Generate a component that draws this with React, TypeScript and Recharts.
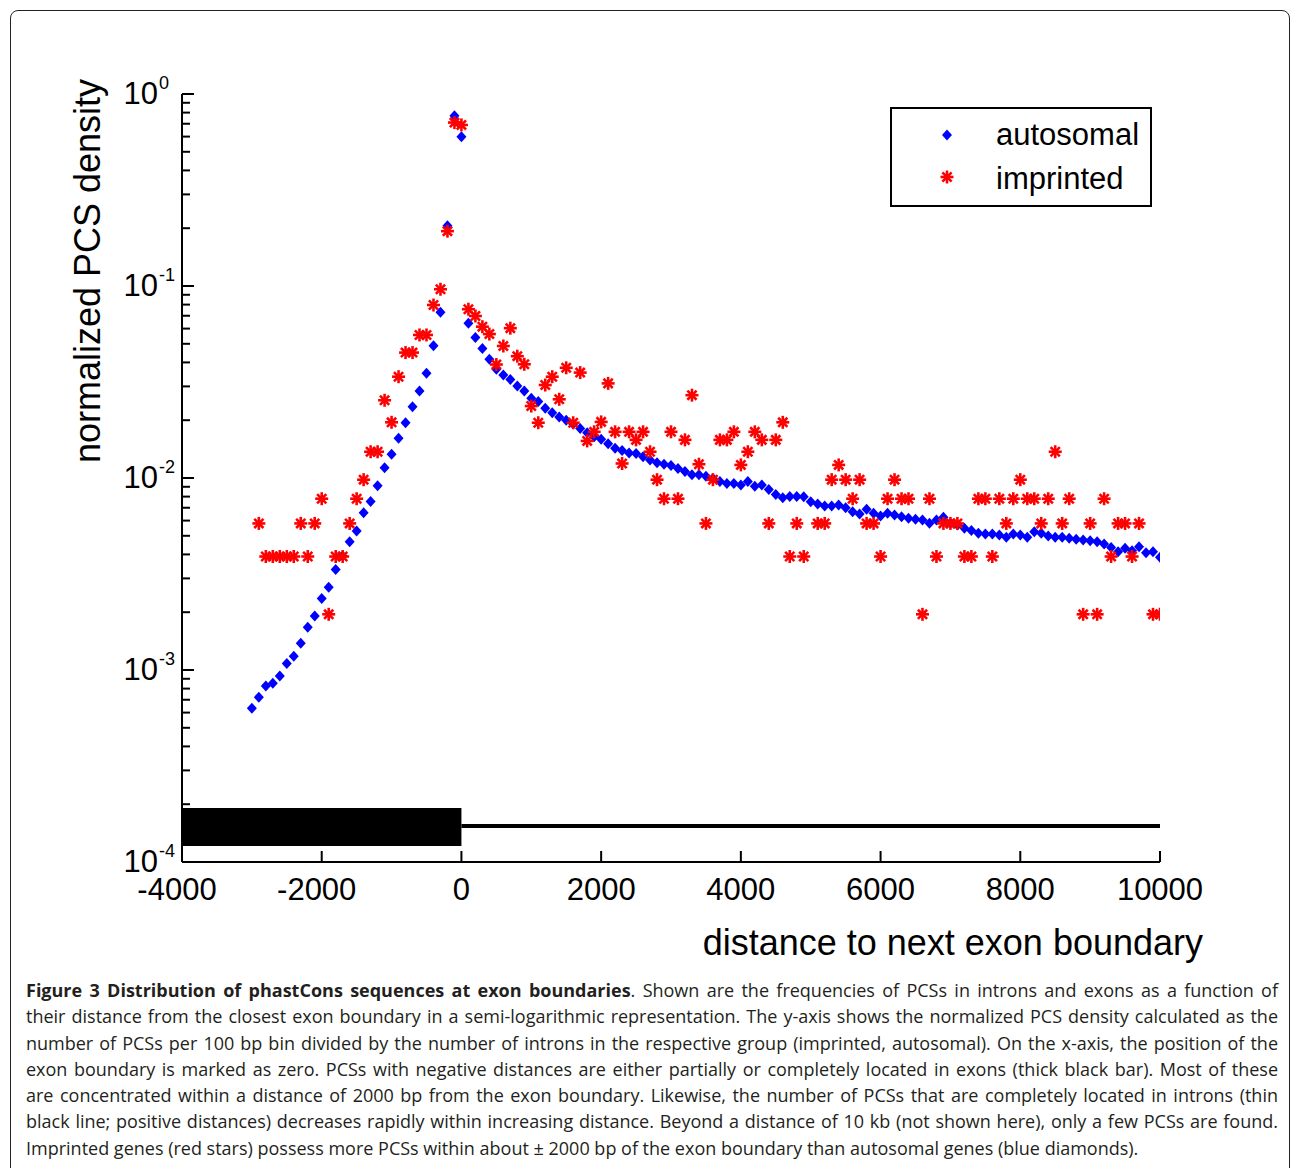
import React from "react";
import {
  ScatterChart,
  Scatter,
  XAxis,
  YAxis,
  ReferenceArea,
  ReferenceLine,
  Legend,
} from "recharts";

// bin positions (bp) and normalized PCS density
const autosomalPos = [
  -3000, -2900, -2800, -2700, -2600, -2500, -2400, -2300, -2200, -2100,
  -2000, -1900, -1800, -1700, -1600, -1500, -1400, -1300, -1200, -1100,
  -1000, -900, -800, -700, -600, -500, -400, -300, -200, -100, 0,
  100, 200, 300, 400, 500, 600, 700, 800, 900, 1000,
  1100, 1200, 1300, 1400, 1500, 1600, 1700, 1800, 1900, 2000,
  2100, 2200, 2300, 2400, 2500, 2600, 2700, 2800, 2900, 3000,
  3100, 3200, 3300, 3400, 3500, 3600, 3700, 3800, 3900, 4000,
  4100, 4200, 4300, 4400, 4500, 4600, 4700, 4800, 4900, 5000,
  5100, 5200, 5300, 5400, 5500, 5600, 5700, 5800, 5900, 6000,
  6100, 6200, 6300, 6400, 6500, 6600, 6700, 6800, 6900, 7000,
  7100, 7200, 7300, 7400, 7500, 7600, 7700, 7800, 7900, 8000,
  8100, 8200, 8300, 8400, 8500, 8600, 8700, 8800, 8900, 9000,
  9100, 9200, 9300, 9400, 9500, 9600, 9700, 9800, 9900, 10000,
];
const autosomalDensity = [
  0.000632, 0.000721, 0.000825, 0.000852, 0.000931, 0.00108, 0.00118, 0.00138, 0.00167, 0.00191,
  0.00236, 0.0027, 0.00334, 0.00393, 0.00465, 0.0053, 0.00659, 0.00755, 0.00912, 0.0113,
  0.0133, 0.0161, 0.0194, 0.0235, 0.0284, 0.0351, 0.0489, 0.0729, 0.206, 0.771, 0.598,
  0.064, 0.054, 0.0473, 0.0415, 0.0368, 0.0344, 0.0326, 0.0301, 0.0284, 0.026,
  0.025, 0.0231, 0.0219, 0.0208, 0.02, 0.0191, 0.0181, 0.0172, 0.0164, 0.0159,
  0.0151, 0.0143, 0.0139, 0.0135, 0.0134, 0.0129, 0.0124, 0.012, 0.0118, 0.0116,
  0.0112, 0.0108, 0.0104, 0.0104, 0.0102, 0.00995, 0.0096, 0.00937, 0.00937, 0.0092,
  0.0096, 0.00907, 0.0092, 0.0087, 0.0082, 0.0079, 0.008, 0.008, 0.00799, 0.00753,
  0.00732, 0.00715, 0.00715, 0.00723, 0.007, 0.00667, 0.00649, 0.00687, 0.00655, 0.00634,
  0.00655, 0.00641, 0.00629, 0.00617, 0.00609, 0.00604, 0.00581, 0.00604, 0.00624, 0.00581,
  0.00569, 0.00547, 0.00532, 0.00515, 0.00511, 0.00511, 0.00505, 0.00491, 0.00511, 0.00505,
  0.00491, 0.00525, 0.00515, 0.00499, 0.00491, 0.00491, 0.00485, 0.0048, 0.00475, 0.00471,
  0.00466, 0.00453, 0.00435, 0.00413, 0.0043, 0.00418, 0.00439, 0.00408, 0.00413, 0.00387,
];

const imprintedPos = [
  -2900, -2800, -2700, -2600, -2500, -2400, -2300, -2200, -2100, -2000,
  -1900, -1800, -1700, -1600, -1500, -1400, -1300, -1200, -1100, -1000,
  -900, -800, -700, -600, -500, -400, -300, -200, -100, 0,
  100, 200, 300, 400, 500, 600, 700, 800, 900, 1000,
  1100, 1200, 1300, 1400, 1500, 1600, 1700, 1800, 1900, 2000,
  2100, 2200, 2300, 2400, 2500, 2600, 2700, 2800, 2900, 3000,
  3100, 3200, 3300, 3400, 3500, 3600, 3700, 3800, 3900, 4000,
  4100, 4200, 4300, 4400, 4500, 4600, 4700, 4800, 4900, 5100,
  5200, 5300, 5400, 5500, 5600, 5700, 5800, 5900, 6000, 6100,
  6200, 6300, 6400, 6600, 6700, 6800, 6900, 7000, 7100, 7200,
  7300, 7400, 7500, 7600, 7700, 7800, 7900, 8000, 8100, 8200,
  8300, 8400, 8500, 8600, 8700, 8900, 9000, 9100, 9200, 9300,
  9400, 9500, 9600, 9700, 9900, 10000,
];
const imprintedDensity = [
  0.0058, 0.0039, 0.0039, 0.0039, 0.0039, 0.0039, 0.0058, 0.0039, 0.0058, 0.0078,
  0.00195, 0.0039, 0.0039, 0.0058, 0.0078, 0.0098, 0.0137, 0.0137, 0.0254, 0.0195,
  0.0337, 0.045, 0.045, 0.0556, 0.0556, 0.0796, 0.0962, 0.193, 0.71, 0.69,
  0.0757, 0.0698, 0.0614, 0.0562, 0.039, 0.0487, 0.0603, 0.0431, 0.0391, 0.0237,
  0.0194, 0.0305, 0.0337, 0.0257, 0.0375, 0.0194, 0.0354, 0.0156, 0.0174, 0.0196,
  0.0311, 0.0174, 0.0119, 0.0174, 0.0158, 0.0174, 0.0137, 0.0098, 0.0078, 0.0174,
  0.0078, 0.0158, 0.027, 0.0118, 0.0058, 0.0098, 0.0158, 0.0158, 0.0174, 0.0117,
  0.0137, 0.0174, 0.0158, 0.0058, 0.0158, 0.0195, 0.0039, 0.0058, 0.0039, 0.0058,
  0.0058, 0.0098, 0.0117, 0.0098, 0.0078, 0.0098, 0.0058, 0.0058, 0.0039, 0.0078,
  0.0098, 0.0078, 0.0078, 0.00195, 0.0078, 0.0039, 0.0058, 0.0058, 0.0058, 0.0039,
  0.0039, 0.0078, 0.0078, 0.0039, 0.0078, 0.0058, 0.0078, 0.0098, 0.0078, 0.0078,
  0.0058, 0.0078, 0.0137, 0.0058, 0.0078, 0.00195, 0.0058, 0.00195, 0.0078, 0.0039,
  0.0058, 0.0058, 0.0039, 0.0058, 0.00195, 0.00195,
];

// exon (thick bar) and intron (thin line) schematic
const exonStart = -4000;
const exonEnd = 0;
const exonLow = 0.000121;
const exonHigh = 0.000191;
const intronEnd = 10000;
const intronLevel = 0.000154;

const xTicks = [-4000, -2000, 0, 2000, 4000, 6000, 8000, 10000];
const decades = [0.0001, 0.001, 0.01, 0.1];
const minorSteps = [2, 3, 4, 5, 6, 7, 8, 9];
const yTicks = [...decades.flatMap((d) => [d, ...minorSteps.map((m) => d * m)]), 1];

const autosomalData = autosomalPos.map((x, i) => ({ x, y: autosomalDensity[i] }));
const imprintedData = imprintedPos.map((x, i) => ({ x, y: imprintedDensity[i] }));

const tickFont = "'Liberation Sans', Arial, sans-serif";
const BLUE = "#0000ff";
const RED = "#ff0000";

function Diamond({ cx, cy }: any) {
  if (cx == null || cy == null) return null;
  return (
    <polygon
      points={`${cx},${cy - 5.5} ${cx + 5},${cy} ${cx},${cy + 5.5} ${cx - 5},${cy}`}
      fill={BLUE}
    />
  );
}

function Star({ cx, cy }: any) {
  if (cx == null || cy == null) return null;
  const r = 6.5;
  const d = 4.6;
  return (
    <g stroke={RED} strokeWidth={2.6} strokeLinecap="butt">
      <line x1={cx - r} y1={cy} x2={cx + r} y2={cy} />
      <line x1={cx} y1={cy - r} x2={cx} y2={cy + r} />
      <line x1={cx - d} y1={cy - d} x2={cx + d} y2={cy + d} />
      <line x1={cx - d} y1={cy + d} x2={cx + d} y2={cy - d} />
      <circle cx={cx} cy={cy} r={2.5} fill={RED} stroke="none" />
    </g>
  );
}

function YTick({ x, y, payload }: any) {
  const v = payload.value;
  const exp = Math.round(Math.log10(v));
  const major = Math.abs(Math.log10(v) - exp) < 1e-6;
  return (
    <g>
      <line x1={x} y1={y} x2={x + (major ? 12 : 8)} y2={y} stroke="#000" strokeWidth={2} />
      {major && (
        <g fontFamily={tickFont} fill="#000">
          <text x={x - 24} y={y + 10} fontSize={31} textAnchor="end">
            10
          </text>
          <text x={x - 23} y={y - 5} fontSize={18} textAnchor="start">
            {exp === 0 ? "0" : `-${-exp}`}
          </text>
        </g>
      )}
    </g>
  );
}

function XTick({ x, y, payload }: any) {
  const v = payload.value;
  return (
    <g>
      <line x1={x} y1={y} x2={x} y2={y - 11} stroke="#000" strokeWidth={2} />
      <text
        x={v < 0 ? x - 5 : x}
        y={y + 38}
        fontSize={31}
        fontFamily={tickFont}
        textAnchor="middle"
        fill="#000"
      >
        {v}
      </text>
    </g>
  );
}

function LegendBox() {
  return (
    <div
      style={{
        width: 262,
        height: 100,
        boxSizing: "border-box",
        border: "2px solid #000",
        background: "#fff",
        position: "relative",
        fontFamily: tickFont,
        fontSize: 31,
        color: "#000",
      }}
    >
      <svg width={20} height={20} style={{ position: "absolute", left: 45, top: 16 }}>
        <Diamond cx={10} cy={10} />
      </svg>
      <svg width={20} height={20} style={{ position: "absolute", left: 45, top: 58 }}>
        <Star cx={10} cy={10} />
      </svg>
      <div style={{ position: "absolute", left: 104, top: 8, lineHeight: "36px" }}>autosomal</div>
      <div style={{ position: "absolute", left: 104, top: 52, lineHeight: "36px" }}>imprinted</div>
    </div>
  );
}

const captionLines = [
  "their distance from the closest exon boundary in a semi-logarithmic representation. The y-axis shows the normalized PCS density calculated as the",
  "number of PCSs per 100 bp bin divided by the number of introns in the respective group (imprinted, autosomal). On the x-axis, the position of the",
  "exon boundary is marked as zero. PCSs with negative distances are either partially or completely located in exons (thick black bar). Most of these",
  "are concentrated within a distance of 2000 bp from the exon boundary. Likewise, the number of PCSs that are completely located in introns (thin",
  "black line; positive distances) decreases rapidly within increasing distance. Beyond a distance of 10 kb (not shown here), only a few PCSs are found.",
];

export default function App() {
  const lineStyle: React.CSSProperties = {
    textAlign: "justify",
    textAlignLast: "justify",
    whiteSpace: "nowrap",
  };
  return (
    <div
      style={{
        position: "absolute",
        left: 0,
        top: 0,
        width: 1290,
        height: 1168,
        overflow: "hidden",
        background: "#fff",
      }}
    >
      <div
        style={{
          position: "absolute",
          left: 10,
          top: 10,
          width: 1280,
          height: 1200,
          border: "1.5px solid #222",
          borderRadius: 8,
          boxSizing: "border-box",
        }}
      />
      <div style={{ position: "absolute", left: 0, top: 0 }}>
        <ScatterChart
          width={1290}
          height={970}
          margin={{ top: 94, right: 130, left: 122, bottom: 68 }}
        >
          <XAxis
            type="number"
            dataKey="x"
            domain={[-4000, 10000]}
            ticks={xTicks}
            interval={0}
            height={40}
            tickSize={0}
            tickMargin={0}
            tick={<XTick />}
            axisLine={{ stroke: "#000", strokeWidth: 2 }}
            allowDataOverflow
            label={(props: any) => {
              const vb = props.viewBox;
              return (
                <text
                  x={vb.x + vb.width + 43}
                  y={vb.y + 93}
                  textAnchor="end"
                  fontSize={36}
                  fontFamily={tickFont}
                  fill="#000"
                >
                  distance to next exon boundary
                </text>
              );
            }}
          />
          <YAxis
            type="number"
            dataKey="y"
            scale="log"
            domain={[0.0001, 1]}
            ticks={yTicks}
            interval={0}
            width={60}
            tickSize={0}
            tickMargin={0}
            tick={<YTick />}
            axisLine={{ stroke: "#000", strokeWidth: 2 }}
            allowDataOverflow
            label={(props: any) => {
              const vb = props.viewBox;
              const lx = vb.x - 22;
              const ly = vb.y + 177;
              return (
                <text
                  x={lx}
                  y={ly}
                  transform={`rotate(-90, ${lx}, ${ly})`}
                  textAnchor="middle"
                  fontSize={36}
                  fontFamily={tickFont}
                  fill="#000"
                >
                  normalized PCS density
                </text>
              );
            }}
          />
          <ReferenceArea
            x1={exonStart}
            x2={exonEnd}
            y1={exonLow}
            y2={exonHigh}
            fill="#000"
            fillOpacity={1}
            stroke="none"
            ifOverflow="visible"
          />
          <ReferenceLine
            segment={[
              { x: exonEnd, y: intronLevel },
              { x: intronEnd, y: intronLevel },
            ]}
            stroke="#000"
            strokeWidth={4}
            ifOverflow="visible"
          />
          <Scatter
            name="autosomal"
            data={autosomalData}
            shape={(p: any) => <Diamond cx={p.cx} cy={p.cy} />}
            isAnimationActive={false}
          />
          <Scatter
            name="imprinted"
            data={imprintedData}
            shape={(p: any) => <Star cx={p.cx} cy={p.cy} />}
            isAnimationActive={false}
          />
          <Legend
            layout="vertical"
            align="center"
            verticalAlign="middle"
            content={() => <LegendBox />}
            wrapperStyle={{ position: "absolute", left: 890, top: 107, width: 262, height: 100 }}
          />
        </ScatterChart>
      </div>
      <div
        style={{
          position: "absolute",
          left: 26,
          top: 977,
          width: 1252,
          fontFamily: "'Open Sans', sans-serif",
          fontSize: 18,
          lineHeight: "26.3px",
          color: "#231f20",
        }}
      >
        <div style={lineStyle}>
          <b>Figure 3 Distribution of phastCons sequences at exon boundaries</b>. Shown are the
          frequencies of PCSs in introns and exons as a function of
        </div>
        {captionLines.map((t, i) => (
          <div key={i} style={lineStyle}>
            {t}
          </div>
        ))}
        <div style={{ whiteSpace: "nowrap" }}>
          Imprinted genes (red stars) possess more PCSs within about ± 2000 bp of the exon boundary
          than autosomal genes (blue diamonds).
        </div>
      </div>
    </div>
  );
}
